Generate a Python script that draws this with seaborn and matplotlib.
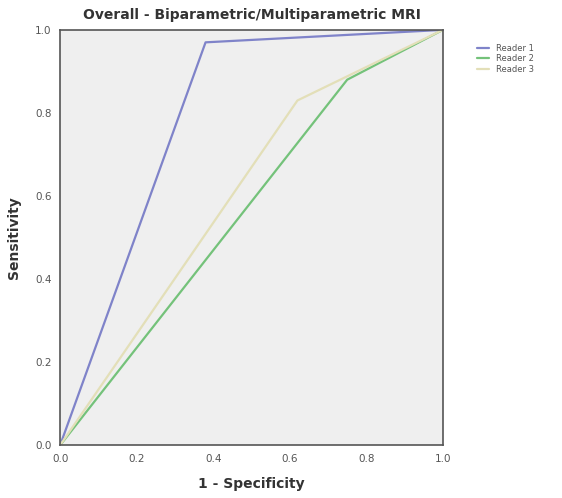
import matplotlib
matplotlib.use("Agg")
import matplotlib.pyplot as plt
import seaborn as sns
import pandas as pd

readers = ["Reader 1", "Reader 2", "Reader 3"]
fpr_r1 = [0.0, 0.38, 1.0]
tpr_r1 = [0.0, 0.97, 1.0]
fpr_r2 = [0.0, 0.75, 1.0]
tpr_r2 = [0.0, 0.88, 1.0]
fpr_r3 = [0.0, 0.62, 1.0]
tpr_r3 = [0.0, 0.83, 1.0]
ticks = [0.0, 0.2, 0.4, 0.6, 0.8, 1.0]
tick_labels = ["0.0", "0.2", "0.4", "0.6", "0.8", "1.0"]

rows = []
for name, xs, ys in zip(readers, [fpr_r1, fpr_r2, fpr_r3], [tpr_r1, tpr_r2, tpr_r3]):
    for i, (x, y) in enumerate(zip(xs, ys)):
        rows.append({"Reader": name, "x": x, "y": y, "order": i})
df = pd.DataFrame(rows)

sns.set_theme(style="white")
plt.rcParams["font.family"] = ["DejaVu Sans"]

fig = plt.figure(figsize=(5.62, 4.98), dpi=100)
ax = fig.add_axes([0.107, 0.106, 0.681, 0.834])
ax.set_facecolor("#efefef")

palette = {"Reader 1": "#7f83c9", "Reader 2": "#74c27a", "Reader 3": "#e3dfb8"}
sns.lineplot(data=df, x="x", y="y", hue="Reader", palette=palette, sort=False,
             estimator=None, units="Reader", linewidth=1.6, ax=ax, legend=True)

ax.set_xlim(0, 1)
ax.set_ylim(0, 1)
ax.set_xticks(ticks)
ax.set_xticklabels(tick_labels, fontsize=7.5, color="#555555")
ax.set_yticks(ticks)
ax.set_yticklabels(tick_labels, fontsize=7.5, color="#555555")
ax.tick_params(axis="both", length=4, width=1, color="#444444", direction="out", pad=2)
for s in ax.spines.values():
    s.set_color("#555555")
    s.set_linewidth(1.2)
ax.set_xlabel("1 - Specificity", fontsize=10, fontweight="bold", color="#333333", labelpad=10)
ax.set_ylabel("Sensitivity", fontsize=10, fontweight="bold", color="#333333", labelpad=10)
ax.set_title("Overall - Biparametric/Multiparametric MRI", fontsize=10, fontweight="bold",
             color="#333333", pad=8)

leg = ax.legend(loc="upper left", bbox_to_anchor=(1.08, 0.975), frameon=False,
                fontsize=6, handlelength=1.5, labelspacing=0.2, borderaxespad=0)
for t in leg.get_texts():
    t.set_color("#555555")

fig.savefig("out.png", dpi=100)
